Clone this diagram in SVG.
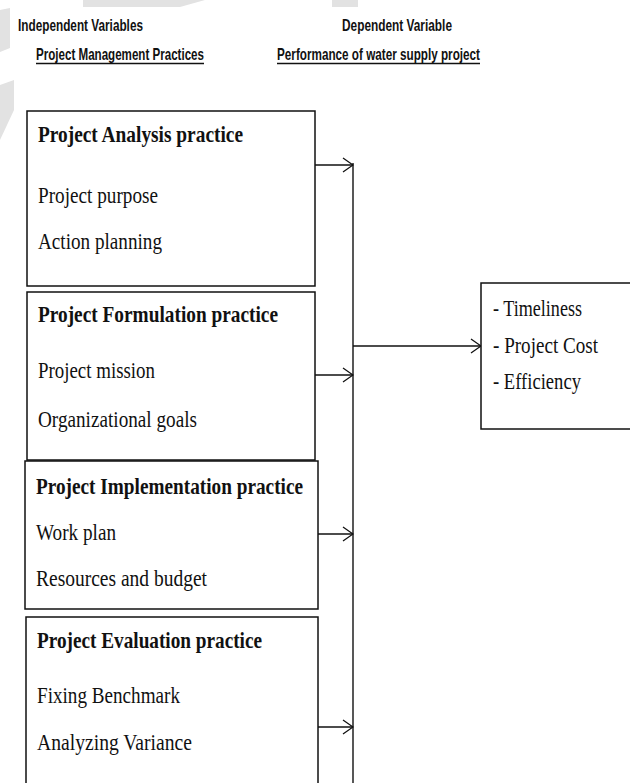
<svg xmlns="http://www.w3.org/2000/svg" width="630" height="783" viewBox="0 0 630 783">
<defs>
<marker id="arr" markerWidth="12" markerHeight="16" refX="11" refY="8" orient="auto" markerUnits="userSpaceOnUse">
<polyline points="1,1 11,8 1,15" fill="none" stroke="#111" stroke-width="1.3"/>
</marker>
<style>
.box{fill:#fff;stroke:#111;stroke-width:1.5}
.hd{font-family:"Liberation Sans Narrow","Liberation Sans",Arial,sans-serif;font-weight:bold;font-size:17px;fill:#111}
.tt{font-family:"Liberation Serif","Times New Roman",serif;font-weight:bold;font-size:23px;fill:#111}
.it{font-family:"Liberation Serif","Times New Roman",serif;font-size:23px;fill:#111}
.ln{fill:none;stroke:#111;stroke-width:1.4}
.ul{stroke:#111;stroke-width:1.4}
.wm{fill:#e2e2e2}
</style>
</defs>
<rect width="630" height="783" fill="#fff"/>
<g id="watermark">
<polygon class="wm" points="83,0 205,0 180,7 83,7"/>
<rect class="wm" x="332" y="0" width="26" height="7"/>
<polygon class="wm" points="0,10 10,8 10,48 0,52"/>
<polygon class="wm" points="0,85 14,80 14,110 0,140"/>
</g>
<g id="headers">
<text class="hd" x="18" y="31" textLength="125" lengthAdjust="spacingAndGlyphs">Independent Variables</text>
<text class="hd" x="342" y="31" textLength="110" lengthAdjust="spacingAndGlyphs">Dependent Variable</text>
<text class="hd" x="36" y="60" textLength="168" lengthAdjust="spacingAndGlyphs">Project Management  Practices</text>
<line class="ul" x1="36" y1="63.5" x2="204" y2="63.5"/>
<text class="hd" x="277" y="60" textLength="203" lengthAdjust="spacingAndGlyphs">Performance of water supply project</text>
<line class="ul" x1="277" y1="63.5" x2="480" y2="63.5"/>
</g>
<g id="connectors">
<line class="ln" x1="353" y1="163" x2="353" y2="790"/>
<line class="ln" x1="315" y1="165" x2="353" y2="165" marker-end="url(#arr)"/>
<line class="ln" x1="315" y1="375" x2="353" y2="375" marker-end="url(#arr)"/>
<line class="ln" x1="318" y1="534" x2="353" y2="534" marker-end="url(#arr)"/>
<line class="ln" x1="318" y1="727" x2="353" y2="727" marker-end="url(#arr)"/>
<line class="ln" x1="353" y1="346" x2="481" y2="346" marker-end="url(#arr)"/>
</g>
<g id="analysis">
<rect class="box" x="27" y="111" width="288" height="175"/>
<text class="tt" x="38" y="142" textLength="205" lengthAdjust="spacingAndGlyphs">Project Analysis practice</text>
<text class="it" x="38" y="203" textLength="120" lengthAdjust="spacingAndGlyphs">Project purpose</text>
<text class="it" x="38" y="249" textLength="124" lengthAdjust="spacingAndGlyphs">Action planning</text>
</g>
<g id="formulation">
<rect class="box" x="27" y="292" width="288" height="168"/>
<text class="tt" x="38" y="322" textLength="240" lengthAdjust="spacingAndGlyphs">Project Formulation practice</text>
<text class="it" x="38" y="378" textLength="117" lengthAdjust="spacingAndGlyphs">Project mission</text>
<text class="it" x="38" y="427" textLength="159" lengthAdjust="spacingAndGlyphs">Organizational goals</text>
</g>
<g id="implementation">
<rect class="box" x="25" y="461" width="293" height="148"/>
<text class="tt" x="36" y="494" textLength="267" lengthAdjust="spacingAndGlyphs">Project Implementation  practice</text>
<text class="it" x="36" y="540" textLength="80" lengthAdjust="spacingAndGlyphs">Work plan</text>
<text class="it" x="36" y="586" textLength="171" lengthAdjust="spacingAndGlyphs">Resources and budget</text>
</g>
<g id="evaluation">
<rect class="box" x="26" y="617" width="292" height="180"/>
<text class="tt" x="37" y="648" textLength="225" lengthAdjust="spacingAndGlyphs">Project Evaluation practice</text>
<text class="it" x="37" y="703" textLength="143" lengthAdjust="spacingAndGlyphs">Fixing Benchmark</text>
<text class="it" x="37" y="750" textLength="155" lengthAdjust="spacingAndGlyphs">Analyzing Variance</text>
</g>
<g id="performance">
<rect class="box" x="481" y="283" width="160" height="146"/>
<text class="it" x="493" y="316" textLength="89" lengthAdjust="spacingAndGlyphs">- Timeliness</text>
<text class="it" x="493" y="353" textLength="105" lengthAdjust="spacingAndGlyphs">- Project Cost</text>
<text class="it" x="493" y="389" textLength="88" lengthAdjust="spacingAndGlyphs">- Efficiency</text>
</g>
</svg>
